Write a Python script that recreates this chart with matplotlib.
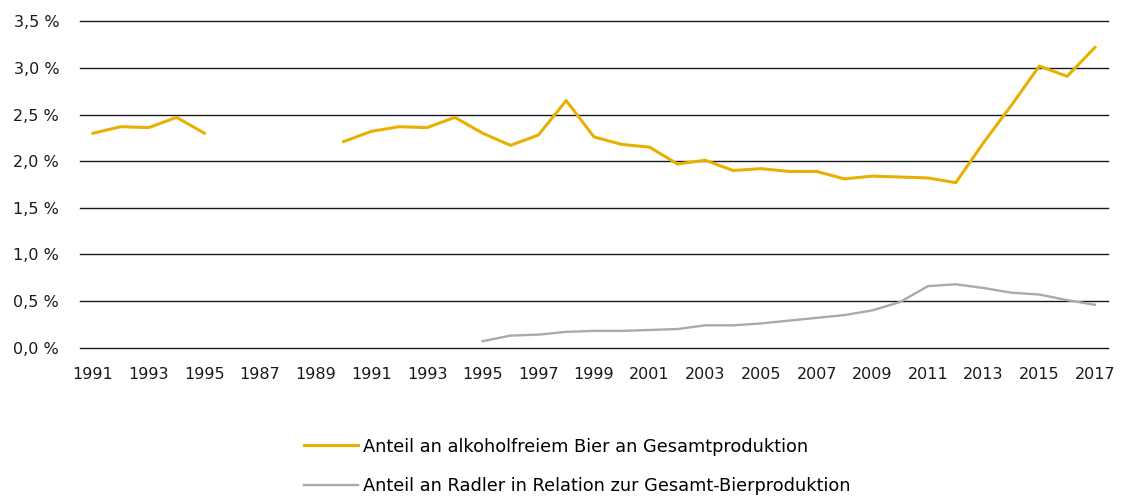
import numpy as np
import matplotlib.pyplot as plt

# categories as printed on the x axis (the source repeats 1991-1995)
years = ["1991", "1992", "1993", "1994", "1995", "1986", "1987", "1988", "1989", "1990",
         "1991", "1992", "1993", "1994", "1995", "1996", "1997", "1998", "1999", "2000",
         "2001", "2002", "2003", "2004", "2005", "2006", "2007", "2008", "2009", "2010",
         "2011", "2012", "2013", "2014", "2015", "2016", "2017"]

# share of alcohol-free beer in total production (%), None = no value
alkoholfrei = [2.30, 2.37, 2.36, 2.47, 2.30, None, None, None, None, 2.21,
               2.32, 2.37, 2.36, 2.47, 2.30, 2.17, 2.28, 2.65, 2.26, 2.18,
               2.15, 1.97, 2.01, 1.90, 1.92, 1.89, 1.89, 1.81, 1.84, 1.83,
               1.82, 1.77, 2.20, 2.60, 3.02, 2.91, 3.22]

# share of Radler relative to total beer production (%)
radler = [None] * 14 + [0.07, 0.13, 0.14, 0.17, 0.18, 0.18,
                        0.19, 0.20, 0.24, 0.24, 0.26, 0.29, 0.32, 0.35, 0.40, 0.49,
                        0.66, 0.68, 0.64, 0.59, 0.57, 0.51, 0.46]

yticks = [0.0, 0.5, 1.0, 1.5, 2.0, 2.5, 3.0, 3.5]
ylabels = ["0,0 %", "0,5 %", "1,0 %", "1,5 %", "2,0 %", "2,5 %", "3,0 %", "3,5 %"]

plt.rcParams['font.family'] = ['DejaVu Sans']

fig = plt.figure(figsize=(11.23, 4.97), dpi=100)
ax = fig.add_axes([80 / 1123, 1 - 347.7 / 497, 1028 / 1123, 326.4 / 497])

x = np.arange(len(years))
y1 = np.array([np.nan if v is None else v for v in alkoholfrei])
y2 = np.array([np.nan if v is None else v for v in radler])

ax.plot(x, y1, color='#E8B000', lw=2.2, label='Anteil an alkoholfreiem Bier an Gesamtproduktion', zorder=3)
ax.plot(x, y2, color='#A6ACA9', lw=1.7, label='Anteil an Radler in Relation zur Gesamt-Bierproduktion', zorder=3)

ax.set_xlim(-0.47, len(years) - 1 + 0.47)
ax.set_ylim(0, 3.5)
ax.set_yticks(yticks)
ax.set_yticklabels(ylabels)
ax.set_xticks(x[::2])
ax.set_xticklabels(years[::2])
ax.tick_params(axis='both', length=0, labelsize=11.5, colors='#1a1a1a')
ax.tick_params(axis='y', pad=15)
ax.tick_params(axis='x', pad=14)

ax.yaxis.grid(True, color='#1a1a1a', lw=1.0)
for gl in ax.get_ygridlines():
    gl.set_clip_on(False)
ax.set_axisbelow(True)
for s in ax.spines.values():
    s.set_visible(False)

fig.legend(loc='center', bbox_to_anchor=(0.514, 0.062), frameon=False, fontsize=12.8,
           handlelength=3.0, handletextpad=0.28, labelspacing=1.2)

fig.savefig('out.png', dpi=100)
